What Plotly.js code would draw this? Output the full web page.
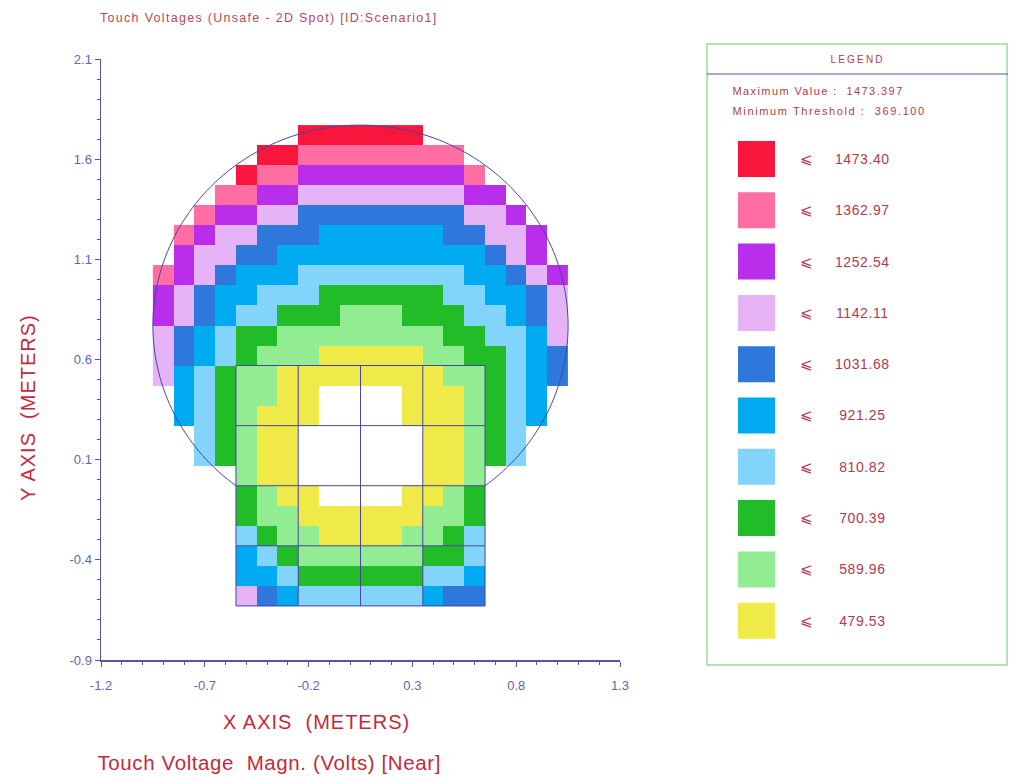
<!DOCTYPE html>
<html>
<head>
<meta charset="utf-8">
<script src="https://cdn.plot.ly/plotly-3.0.1.min.js"></script>
<style>
  html, body { margin: 0; padding: 0; background: #ffffff; }
  #chart { width: 1009px; height: 778px; }
</style>
</head>
<body>
<div id="chart"></div>
<script>
// ---------------- DATA ----------------
// Column centres (m) and row centres (m) of the 0.1 m calculation grid
const xCenters = [-0.9, -0.8, -0.7, -0.6, -0.5, -0.4, -0.3, -0.2, -0.1, 0.0,
                  0.1, 0.2, 0.3, 0.4, 0.5, 0.6, 0.7, 0.8, 0.9, 1.0];
const yCenters = [1.72, 1.62, 1.52, 1.42, 1.32, 1.22, 1.12, 1.02, 0.92, 0.82,
                  0.72, 0.62, 0.52, 0.42, 0.32, 0.22, 0.12, 0.02, -0.08, -0.18,
                  -0.28, -0.38, -0.48, -0.58];

// Legend bands (upper limits, V) and their colours, highest first
const bandLimits = [1473.40, 1362.97, 1252.54, 1142.11, 1031.68, 921.25, 810.82, 700.39, 589.96, 479.53];
const bandColors = ['#F8163C', '#FF6EA2', '#B82EEA', '#E6B4F6', '#2E78DC', '#00AAF0', '#82D4FA', '#22BC28', '#92EC92', '#F0EA48'];
const maxValue = 1473.397;
const minThreshold = 369.100;
// band codes (highest first, same order as bandLimits)
const bandCodes = ['R', 'P', 'U', 'L', 'B', 'S', 'K', 'G', 'N', 'Y'];

// Touch-voltage band of each cell, top row first ('.' outside area, 'w' below threshold)
const cellBands = [
  '.......RRRRRR.......',
  '.....RRPPPPPPPP.....',
  '....RPPUUUUUUUUP....',
  '...PPUULLLLLLLLUU...',
  '..PUULLBBBBBBBBLLU..',
  '.PULLBBBSSSSSSBBLLU.',
  '.ULLBBSSSSSSSSSSBLU.',
  'PULBSSSKKKKKKKKSSBLU',
  'ULBSSKKKGGGGGGKKSSBL',
  'ULBSKKGGGNNNGGGKKSBL',
  'LBSKGGNNNNNNNNGGKKSL',
  'LBSKGNNNYYYYYNNGGKSB',
  'LSKGNNYYYYYYYYNNGKSB',
  '.SKGNNYYwwwwYYYNGKS.',
  '.SKGNYYYwwwwYYYNGKS.',
  '..KGNYYwwwwwwYYNGK..',
  '..KGNYYwwwwwwYYNGK..',
  '....NYYwwwwwwYYN....',
  '....GNYYwwwwYYNG....',
  '....GNNYYYYYYNNG....',
  '....KGNNYYYYNNGK....',
  '....SKGNNNNNNGGK....',
  '....SSKGGGGGGKKS....',
  '....LBSKKKKKKSBB....'
];

// Conductor outline: grid rectangle lines and circular ring
const gridLinesX = [-0.55, -0.25, 0.05, 0.35, 0.65];
const gridLinesY = [-0.63, -0.33, -0.03, 0.27, 0.57];
const ringCenter = [0.05, 0.77];
const ringRadius = 1.0;

// Axis tick labels
const xTicks = [-1.2, -0.7, -0.2, 0.3, 0.8, 1.3];
const yTicks = [-0.9, -0.4, 0.1, 0.6, 1.1, 1.6, 2.1];

// ---------------- BUILD ----------------
const bandLower = bandLimits.map((v, i) => i < bandLimits.length - 1 ? bandLimits[i + 1] : minThreshold);
const bandValue = {};
bandCodes.forEach((c, i) => { bandValue[c] = (bandLimits[i] + bandLower[i]) / 2; });

const z = cellBands.map(row => row.split('').map(ch => (ch in bandValue) ? bandValue[ch] : null));

const nb = bandColors.length;
const colorscale = [];
for (let i = 0; i < nb; i++) {
  const col = bandColors[nb - 1 - i];
  colorscale.push([i / nb, col]);
  colorscale.push([(i + 1) / nb, col]);
}

const W = 1009, H = 778, ML = 101, MR = 389, MT = 59, MB = 118;
const plotW = W - ML - MR, plotH = H - MT - MB;
const px2x = px => (px - ML) / plotW;
const py2y = py => (H - MB - py) / plotH;

const lineCol = '#4646A6';
const shapes = [];
gridLinesX.forEach(x => shapes.push({type: 'line', xref: 'x', yref: 'y', x0: x, x1: x,
  y0: gridLinesY[0], y1: gridLinesY[gridLinesY.length - 1], line: {color: lineCol, width: 1}, layer: 'above'}));
gridLinesY.forEach(y => shapes.push({type: 'line', xref: 'x', yref: 'y', y0: y, y1: y,
  x0: gridLinesX[0], x1: gridLinesX[gridLinesX.length - 1], line: {color: lineCol, width: 1}, layer: 'above'}));
(function () {
  const [cx, cy] = ringCenter;
  const yb = gridLinesY[2];
  const aR = Math.atan2(yb - cy, gridLinesX[4] - cx);
  const aL = Math.atan2(yb - cy, gridLinesX[0] - cx) + 2 * Math.PI;
  let d = '';
  const n = 180;
  for (let i = 0; i <= n; i++) {
    const a = aR + (aL - aR) * i / n;
    const x = cx + ringRadius * Math.cos(a), y = cy + ringRadius * Math.sin(a);
    d += (i === 0 ? 'M ' : ' L ') + x.toFixed(5) + ',' + y.toFixed(5);
  }
  shapes.push({type: 'path', xref: 'x', yref: 'y', path: d, line: {color: lineCol, width: 1}, layer: 'above'});
})();

// legend panel
const legGreen = '#9ED69E';
shapes.push({type: 'rect', xref: 'paper', yref: 'paper', x0: px2x(707), x1: px2x(1007), y0: py2y(665), y1: py2y(44),
  line: {color: legGreen, width: 1.5}, fillcolor: 'rgba(0,0,0,0)'});
shapes.push({type: 'line', xref: 'paper', yref: 'paper', x0: px2x(707), x1: px2x(1008), y0: py2y(74), y1: py2y(74),
  line: {color: '#5252A8', width: 1}});

const FONT = 'Liberation Sans, Arial, sans-serif';
const legText = '#B23A4A';
const annotations = [];
const spacing = [];
function addAnn(a, ls) {
  annotations.push(Object.assign({xref: 'paper', yref: 'paper', showarrow: false, xanchor: 'center', yanchor: 'middle', align: 'center'}, a));
  spacing.push(ls || 0);
}
addAnn({x: px2x(857), y: py2y(59), text: 'LEGEND', font: {family: FONT, size: 10, color: legText}}, 2.2);
addAnn({x: px2x(818), y: py2y(91), text: 'Maximum Value :  ' + maxValue.toFixed(3), font: {family: FONT, size: 11, color: legText}}, 1.4);
addAnn({x: px2x(829), y: py2y(111), text: 'Minimum Threshold :  ' + minThreshold.toFixed(3), font: {family: FONT, size: 11, color: legText}}, 1.6);

bandLimits.forEach((v, i) => {
  const cyPx = 159 + i * 51.3;
  shapes.push({type: 'rect', xref: 'paper', yref: 'paper', x0: px2x(738), x1: px2x(775),
    y0: py2y(cyPx + 18), y1: py2y(cyPx - 18), line: {width: 0}, fillcolor: bandColors[i]});
  addAnn({x: px2x(806), y: py2y(cyPx), text: '\u2A7D', font: {family: 'DejaVu Sans, sans-serif', size: 15, color: legText}}, 0);
  addAnn({x: px2x(862), y: py2y(cyPx), text: v.toFixed(2), font: {family: FONT, size: 14, color: legText}}, 0.6);
});

const titleRed = '#C42A3C';
addAnn({x: px2x(316), y: py2y(722), text: 'X AXIS  (METERS)', font: {family: FONT, size: 20, color: titleRed}}, 1);
addAnn({x: px2x(269), y: py2y(762), text: 'Touch Voltage  Magn. (Volts) [Near]', font: {family: FONT, size: 20.5, color: titleRed}}, 0.6);
addAnn({x: px2x(28), y: py2y(408), text: 'Y AXIS  (METERS)', textangle: -90, font: {family: FONT, size: 20, color: titleRed}}, 1);

const axisCol = '#5656A8';
const tickFont = {family: FONT, size: 13, color: '#6464B0'};

const trace = {
  type: 'heatmap',
  x: xCenters,
  y: yCenters,
  z: z,
  zmin: minThreshold,
  zmax: maxValue,
  colorscale: colorscale,
  showscale: false,
  hoverongaps: false,
  xgap: 0, ygap: 0
};

const layout = {
  width: W, height: H,
  margin: {l: ML, r: MR, t: MT, b: MB, pad: 0},
  paper_bgcolor: '#ffffff',
  plot_bgcolor: '#ffffff',
  showlegend: false,
  title: {
    text: 'Touch Voltages (Unsafe - 2D Spot) [ID:Scenario1]',
    x: 100 / W, xref: 'container', xanchor: 'left',
    y: 1 - 18 / H, yref: 'container', yanchor: 'middle',
    font: {family: FONT, size: 12.5, color: '#B8485A'}
  },
  xaxis: {
    range: [-1.2, 1.3], autorange: false,
    tickmode: 'array', tickvals: xTicks, ticktext: xTicks.map(v => v.toFixed(1)),
    ticks: 'outside', ticklen: 5, tickcolor: axisCol, tickwidth: 1,
    minor: {dtick: 0.1, tick0: -1.2, ticks: 'outside', ticklen: 3, tickcolor: axisCol, showgrid: false},
    showline: true, linecolor: axisCol, linewidth: 1.5,
    showgrid: false, zeroline: false,
    tickfont: tickFont, ticklabelstandoff: 8
  },
  yaxis: {
    range: [-0.9, 2.1], autorange: false,
    tickmode: 'array', tickvals: yTicks, ticktext: yTicks.map(v => v.toFixed(1)),
    ticks: 'outside', ticklen: 5, tickcolor: axisCol, tickwidth: 1,
    minor: {dtick: 0.1, tick0: -0.9, ticks: 'outside', ticklen: 3, tickcolor: axisCol, showgrid: false},
    showline: true, linecolor: axisCol, linewidth: 1.5,
    showgrid: false, zeroline: false,
    tickfont: tickFont
  },
  shapes: shapes,
  annotations: annotations
};

Plotly.newPlot('chart', [trace], layout, {displayModeBar: false, staticPlot: true}).then(gd => {
  const groups = gd.querySelectorAll('g.annotation');
  groups.forEach(g => {
    const idx = +g.getAttribute('data-index');
    const ls = spacing[idx];
    if (ls) {
      const t = g.querySelector('text.annotation-text');
      if (t) t.style.letterSpacing = ls + 'px';
    }
  });
  const tt = gd.querySelector('.gtitle');
  if (tt) tt.style.letterSpacing = '1.3px';
});
</script>
</body>
</html>
